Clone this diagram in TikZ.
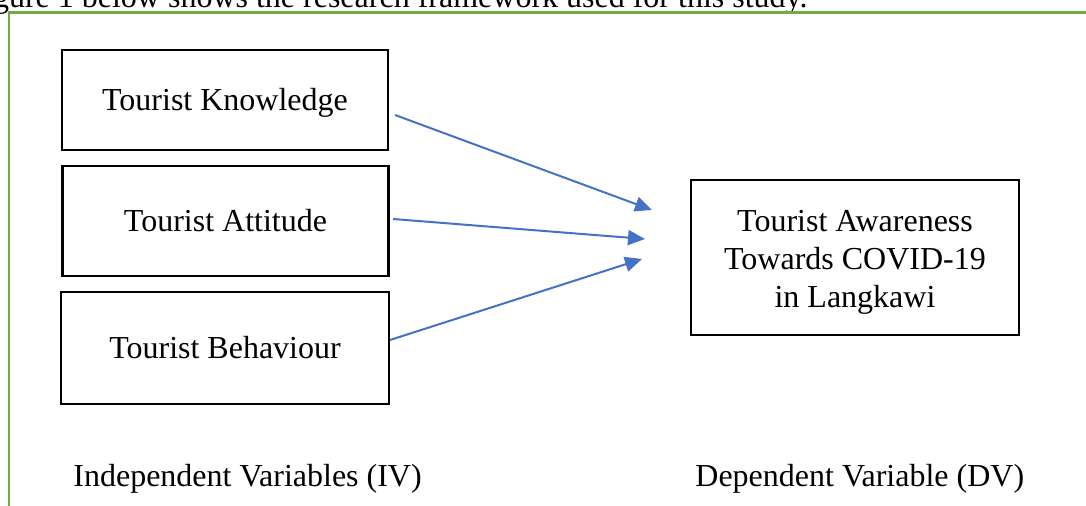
\documentclass[tikz,border=0pt]{standalone}
\usepackage{fontspec}
\setmainfont{Liberation Serif}
\usetikzlibrary{arrows.meta}
\definecolor{framegreen}{HTML}{70AD47}
\definecolor{arrowblue}{HTML}{4472C4}
\begin{document}
\begin{tikzpicture}[x=0.5pt,y=-0.5pt,
  varbox/.style={draw=black,line width=1.4pt,inner sep=0pt},
  boxtext/.style={anchor=base,inner sep=0pt,font=\fontsize{16}{19}\selectfont},
  link/.style={draw=arrowblue,line width=1pt,-{Triangle[length=8.5pt,width=7.5pt]}},
  caption/.style={inner sep=0pt,font=\fontsize{16}{19}\selectfont}]
\useasboundingbox (0,0) rectangle (1086,506);
\clip (0,0) rectangle (1086,506);
\fill[white] (0,0) rectangle (1086,506);

% running text above the frame
\node[caption,anchor=base east] (intro) at (808,8) {Figure 1 below shows the research framework used for this study.};

% frame
\draw[framegreen,line width=1.4pt] (1090,12.5) -- (9,12.5) -- (9,510);

% independent variables
\node[varbox,minimum width=163pt,minimum height=50pt] (know) at (225,100) {};
\node[varbox,minimum width=163pt,minimum height=55pt] (att) at (225.5,221) {};
\node[varbox,minimum width=164pt,minimum height=56pt] (beh) at (225,348) {};
\node[boxtext] (knowtxt) at (225,111) {Tourist Knowledge};
\node[boxtext] (atttxt) at (225.5,232) {Tourist Attitude};
\node[boxtext] (behtxt) at (225,359) {Tourist Behaviour};

% dependent variable
\node[varbox,minimum width=164pt,minimum height=77.5pt] (dv) at (855,257.5) {};
\node[boxtext] (dvtxt1) at (855,232) {Tourist Awareness};
\node[boxtext] (dvtxt2) at (855,270) {Towards COVID-19};
\node[boxtext] (dvtxt3) at (855,308) {in Langkawi};

% arrow ends
\coordinate (k1) at (395,115);
\coordinate (k2) at (652,210);
\coordinate (a1) at (393,219);
\coordinate (a2) at (645,239);
\coordinate (b1) at (390,340);
\coordinate (b2) at (642,259);
\draw[link] (k1) -- (k2);
\draw[link] (a1) -- (a2);
\draw[link] (b1) -- (b2);

% captions
\node[caption,anchor=base west] (ivlab) at (73,487) {Independent Variables (IV)};
\node[caption,anchor=base west] (dvlab) at (695,487) {Dependent Variable (DV)};
\end{tikzpicture}
\end{document}
